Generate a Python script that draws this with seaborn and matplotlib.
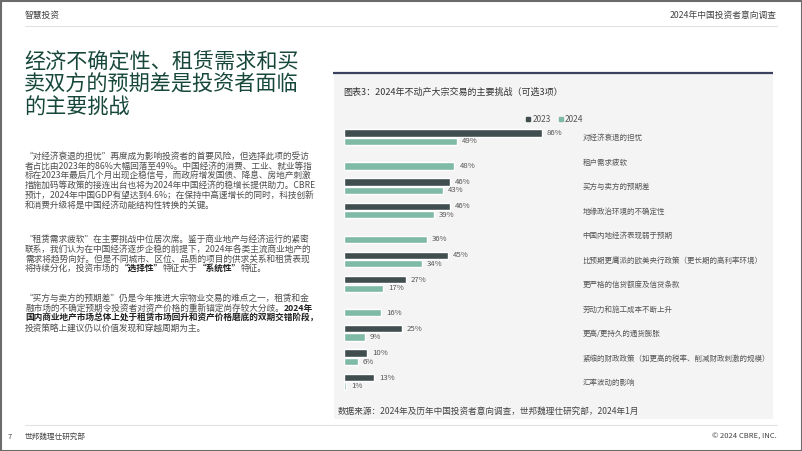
import matplotlib
matplotlib.use("Agg")
import matplotlib.pyplot as plt
import seaborn as sns
import pandas as pd
from matplotlib.patches import Rectangle
from matplotlib.lines import Line2D

sns.set_theme(style="white")
plt.rcParams['font.family'] = ['Noto Sans CJK SC', 'DejaVu Sans']

# ---------------- data ----------------
categories = [
    "对经济衰退的担忧",
    "租户需求疲软",
    "买方与卖方的预期差",
    "地缘政治环境的不确定性",
    "中国内地经济表现弱于预期",
    "比预期更鹰派的欧美央行政策（更长期的高利率环境）",
    "更严格的信贷额度及信贷条款",
    "劳动力和施工成本不断上升",
    "更高/更持久的通货膨胀",
    "紧缩的财政政策（如更高的税率、削减财政刺激的规模）",
    "汇率波动的影响",
]
values_2023 = [86, None, 46, 46, None, 45, 27, None, 25, 10, 13]
values_2024 = [49, 48, 43, 39, 36, 34, 17, 16, 9, 6, 1]
series_names = ["2023", "2024"]

chart_title = "图表3：2024年不动产大宗交易的主要挑战（可选3项）"
source_text = "数据来源：2024年及历年中国投资者意向调查，世邦魏理仕研究部，2024年1月"
page_title = ["经济不确定性、租赁需求和买", "卖双方的预期差是投资者面临", "的主要挑战"]
header_left = "智慧投资"
header_right = "2024年中国投资者意向调查"
footer_page = "7"
footer_left = "世邦魏理仕研究部"
footer_right = "© 2024 CBRE, INC."

para1 = [
    [("“对经济衰退的担忧”再度成为影响投资者的首要风险，但选择此项的受访", False)],
    [("者占比由2023年的86%大幅回落至49%。中国经济的消费、工业、就业等指", False)],
    [("标在2023年最后几个月出现企稳信号，而政府增发国债、降息、房地产刺激", False)],
    [("措施加码等政策的接连出台也将为2024年中国经济的稳增长提供助力。CBRE", False)],
    [("预计，2024年中国GDP有望达到4.6%；在保持中高速增长的同时，科技创新", False)],
    [("和消费升级将是中国经济动能结构性转换的关键。", False)],
]
para2 = [
    [("“租赁需求疲软”在主要挑战中位居次席。鉴于商业地产与经济运行的紧密", False)],
    [("联系，我们认为在中国经济逐步企稳的前提下，2024年各类主流商业地产的", False)],
    [("需求将趋势向好。但是不同城市、区位、品质的项目的供求关系和租赁表现", False)],
    [("将持续分化，投资市场的", False), ("“选择性”", True), ("特征大于", False),
     ("“系统性”", True), ("特征。", False)],
]
para3 = [
    [("“买方与卖方的预期差”仍是今年推进大宗物业交易的难点之一，租赁和金", False)],
    [("融市场的不确定预期令投资者对资产价格的重新锚定尚存较大分歧。", False), ("2024年", True)],
    [("国内商业地产市场总体上处于租赁市场回升和资产价格磨底的双期交错阶段，", True)],
    [("投资策略上建议仍以价值发现和穿越周期为主。", False)],
]

# ---------------- figure ----------------
W, H = 802, 451
fig = plt.figure(figsize=(W / 100, H / 100), dpi=100)
fig.patch.set_facecolor("white")

bg = fig.add_axes([0, 0, 1, 1])
bg.set_xlim(0, W)
bg.set_ylim(H, 0)
bg.axis("off")

# page frame
bg.add_patch(Rectangle((0.5, 0.5), W - 1, H - 1, fill=False, ec="#6b6b6b", lw=1.5))

# header / footer
bg.text(25, 15, header_left, fontsize=6.3, color="#444444", va="center", ha="left")
bg.text(777, 15, header_right, fontsize=6.3, color="#444444", va="center", ha="right")
bg.plot([25, 777], [25.5, 25.5], color="#e2e2e2", lw=0.8)
bg.plot([25, 777], [424.5, 424.5], color="#e2e2e2", lw=0.8)
bg.text(8, 437, footer_page, fontsize=5.5, color="#444444", va="center", ha="left")
bg.text(25, 437, footer_left, fontsize=5.5, color="#444444", va="center", ha="left")
bg.text(777, 437, footer_right, fontsize=5.5, color="#444444", va="center", ha="right")

# page title
for i, line in enumerate(page_title):
    bg.text(24, 62 + i * 23, line, fontsize=15.2, color="#16473a", va="center", ha="left")

# body paragraphs with mixed bold runs
def draw_line(x, y, runs):
    prev = None
    for txt, bold in runs:
        kw = dict(fontsize=6.25, color="#222222" if bold else "#4d4d4d",
                  fontweight="bold" if bold else "normal")
        if prev is None:
            prev = bg.text(x, y, txt, va="center", ha="left", **kw)
        else:
            prev = bg.annotate(txt, xy=(1, 0), xycoords=prev, va="bottom", ha="left", **kw)

for start, para in ((156.5, para1), (239.5, para2), (298.5, para3)):
    for i, runs in enumerate(para):
        draw_line(25, start + i * 9.75, runs)

# chart panel
bg.add_patch(Rectangle((334, 73), 439, 346, color="#f4f4f4", lw=0))
bg.plot([333, 773], [73, 73], color="#3b4260", lw=1.6, solid_capstyle="butt")
bg.text(343, 92, chart_title, fontsize=6.5, color="#333333", va="center", ha="left")
bg.text(338, 411.5, source_text, fontsize=6.2, color="#444444", va="center", ha="left")

# ---------------- bar chart ----------------
rows = []
for cat, a, b in zip(categories, values_2023, values_2024):
    if a is not None:
        rows.append({"category": cat, "year": series_names[0], "value": a})
    if b is not None:
        rows.append({"category": cat, "year": series_names[1], "value": b})
df = pd.DataFrame(rows)

colors = {"2023": "#414e50", "2024": "#7fbaa7"}

row_h = 24.45
y0 = 137.25
top_px = y0 - 0.6 * row_h
bot_px = y0 + 10.6 * row_h
left_px, right_px = 344, 574
ax = fig.add_axes([left_px / W, 1 - bot_px / H, (right_px - left_px) / W, (bot_px - top_px) / H])
ax.patch.set_alpha(0)

sns.barplot(data=df, y="category", x="value", hue="year", order=categories,
            hue_order=series_names, palette=colors, orient="h", width=0.69, gap=0.15,
            saturation=1, ax=ax, legend=False)
ax.set_xlim(0, 100)
ax.set_ylim(10.6, -0.6)
for s in ax.spines.values():
    s.set_visible(False)
ax.set_xticks([])
ax.set_xlabel("")
ax.set_ylabel("")
ax.yaxis.tick_right()
ax.tick_params(axis="y", length=0, pad=6, labelsize=5.4, labelcolor="#555555")

for cont in ax.containers:
    ax.bar_label(cont, fmt="{:.0f}%", padding=3.6, fontsize=5.6, color="#555555")

handles = [Line2D([], [], marker="s", linestyle="", markersize=3.0,
                  markerfacecolor=colors[n], markeredgecolor=colors[n]) for n in series_names]
fig.legend(handles, series_names, loc="center", bbox_to_anchor=(554 / W, 1 - 119 / H),
           ncol=2, frameon=False, fontsize=6, handletextpad=0.15, columnspacing=0.8,
           labelcolor="#555555", handlelength=0.8)

fig.savefig("out.png", dpi=100)
